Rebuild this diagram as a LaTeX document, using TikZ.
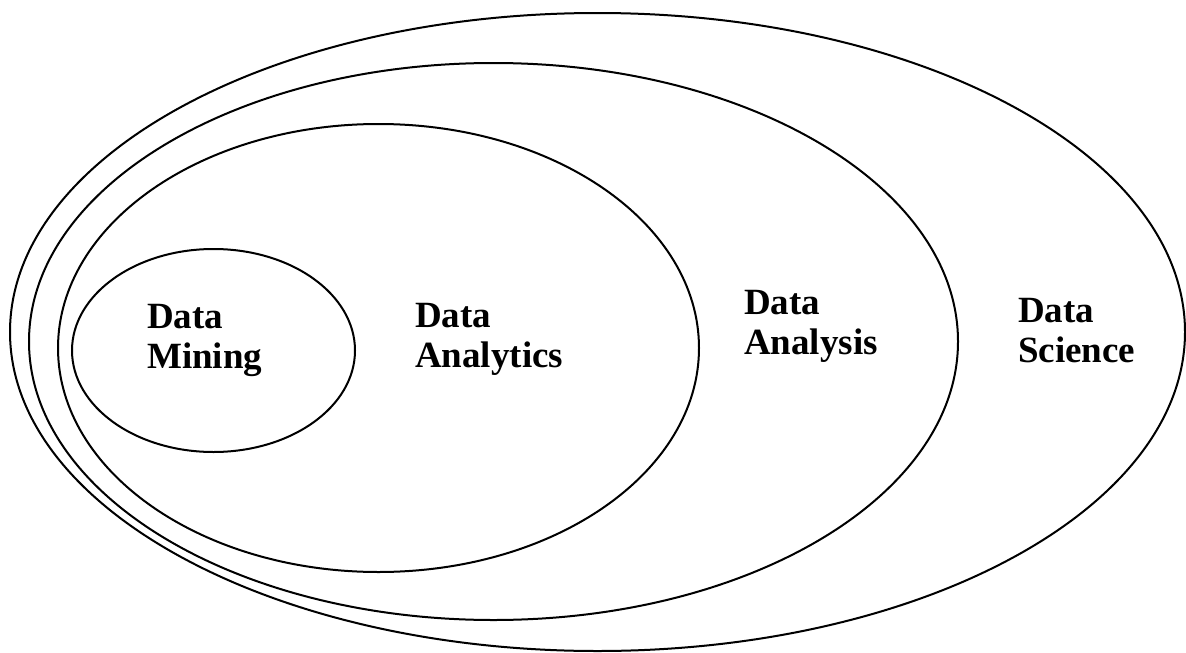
\documentclass[tikz,border=0pt]{standalone}
\usepackage{fontspec}
\setmainfont{Liberation Serif}
\begin{document}
\begin{tikzpicture}[x=1pt,y=-1pt,
  ring/.style={draw=black,line width=2pt},
  lbl/.style={anchor=base west,inner sep=0pt,align=left,
    font=\fontsize{37}{40}\selectfont\bfseries}]
\useasboundingbox (0,0) rectangle (1186,653);
% nested sets, outermost first
\draw[ring] (597.5,332) ellipse [x radius=587.5, y radius=319];
\draw[ring] (493.5,341.5) ellipse [x radius=464.5, y radius=278.5];
\draw[ring] (378.5,348) ellipse [x radius=320.5, y radius=224];
\draw[ring] (213.5,350.5) ellipse [x radius=141.5, y radius=101.5];
% labels (anchored at the baseline of the second line)
\node[lbl] (mining) at (147,368) {Data\\Mining};
\node[lbl] (analytics) at (415,367) {Data\\Analytics};
\node[lbl] (analysis) at (744,354) {Data\\Analysis};
\node[lbl] (science) at (1018,362) {Data\\Science};
\end{tikzpicture}
\end{document}
